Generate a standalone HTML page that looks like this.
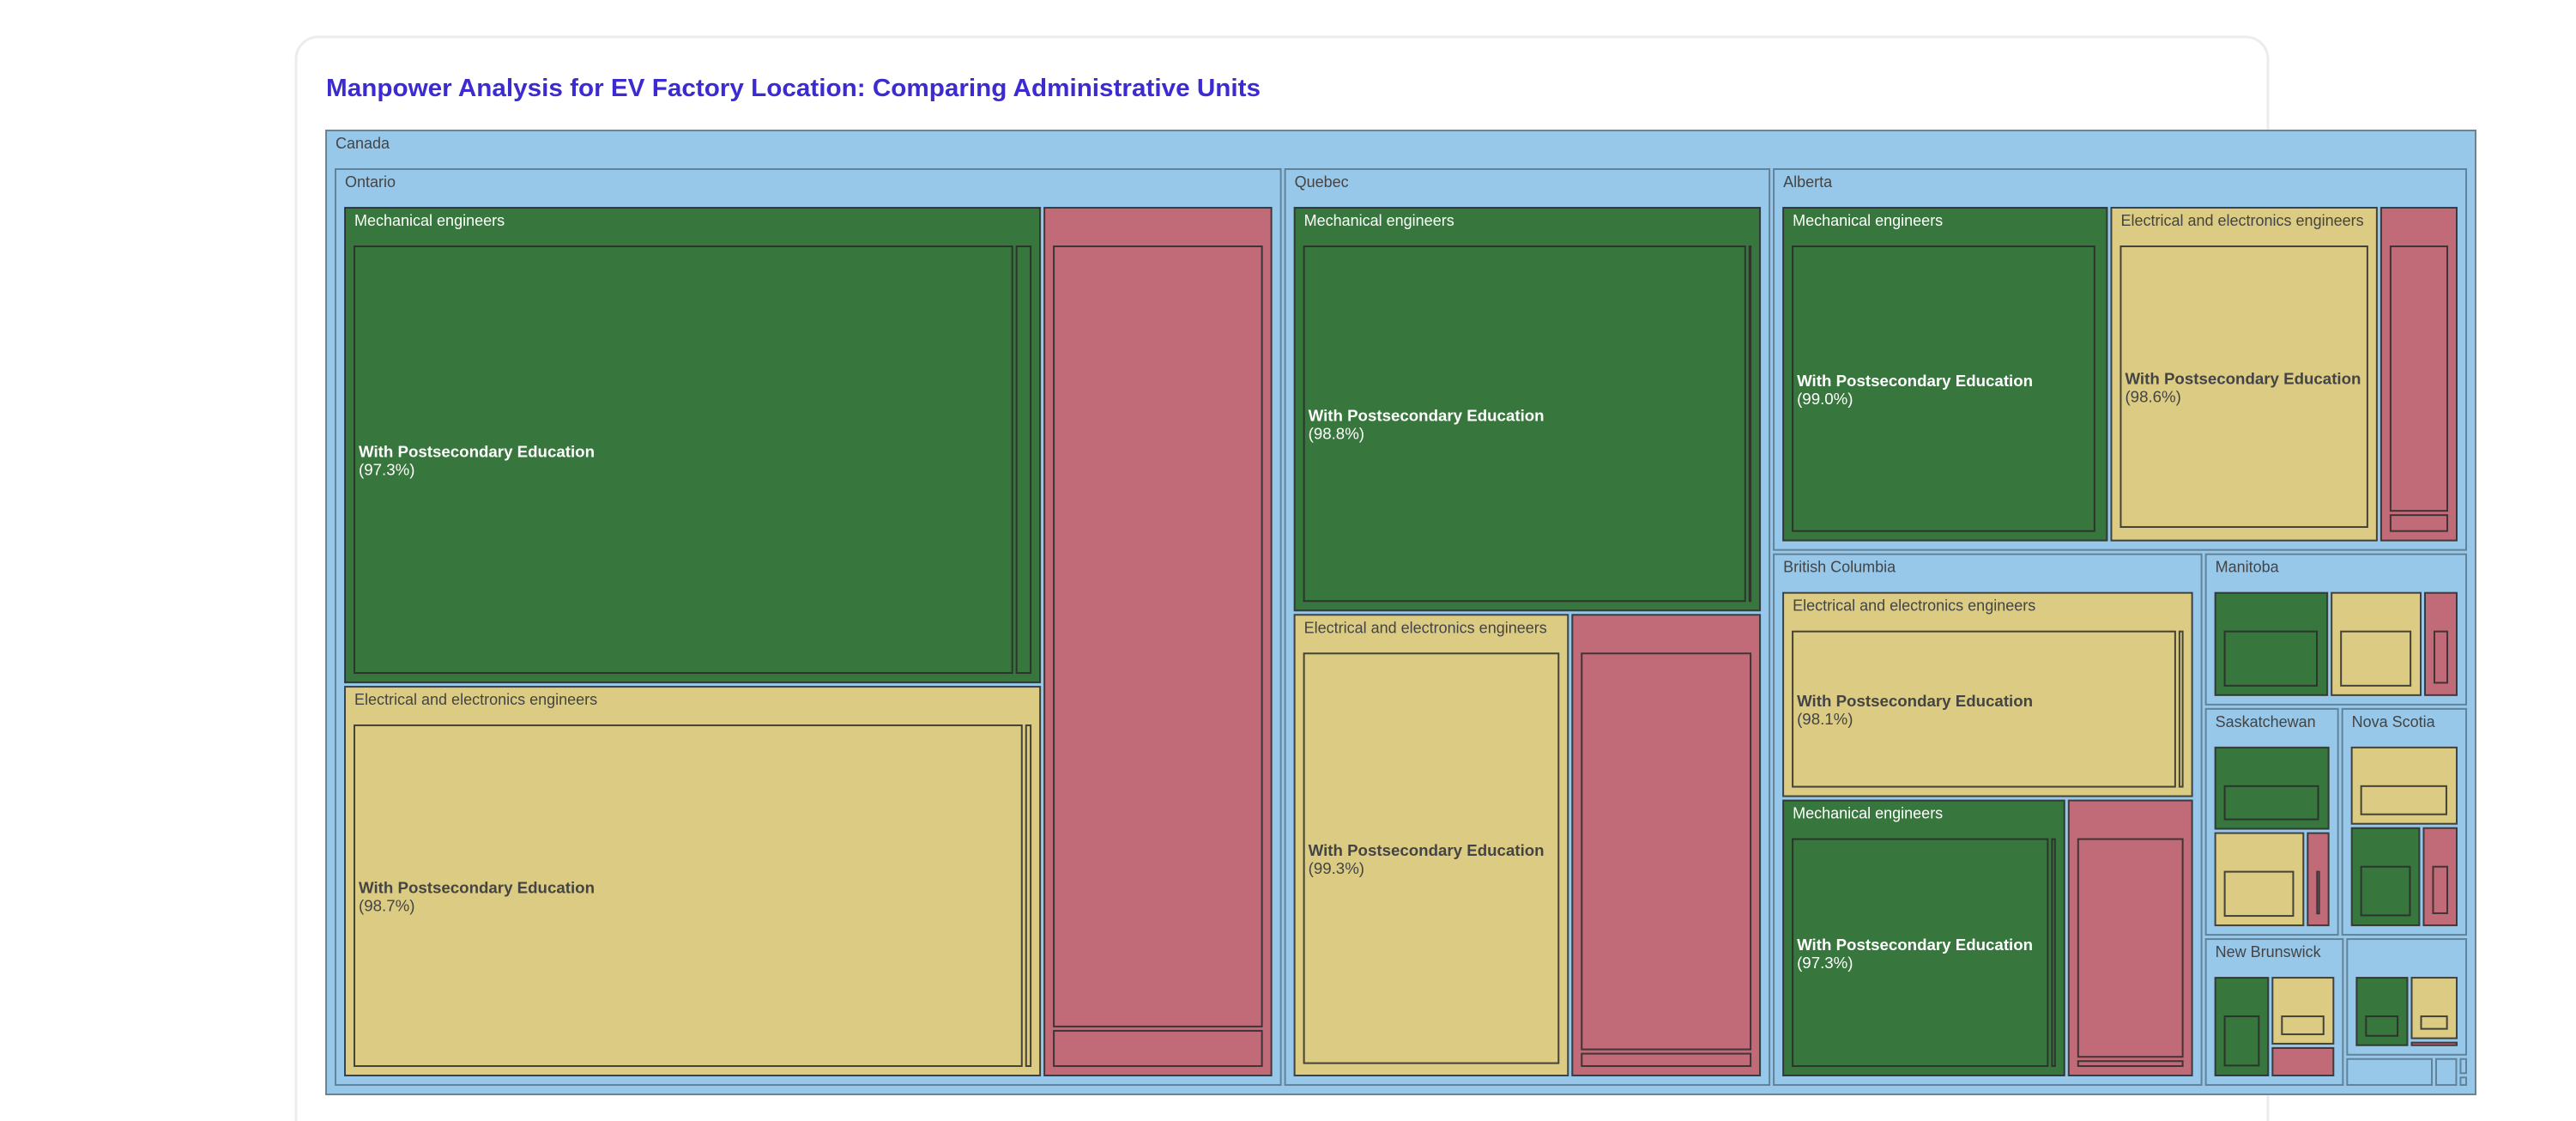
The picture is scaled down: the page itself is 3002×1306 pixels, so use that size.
<!DOCTYPE html>
<html><head><meta charset="utf-8"><style>
html,body{margin:0;padding:0;background:#fff;width:3002px;height:1306px;overflow:hidden}
svg{display:block}
</style></head><body>
<svg id="chart" width="3002" height="1306" xmlns="http://www.w3.org/2000/svg">
<rect x="345" y="43" width="2298" height="1300" rx="26" fill="#fff" stroke="#ececf0" stroke-width="3"/>
<text x="380" y="112" font-family="Liberation Sans, sans-serif" font-weight="bold" font-size="29" fill="#3b2bd0" textLength="1089" lengthAdjust="spacingAndGlyphs">Manpower Analysis for EV Factory Location: Comparing Administrative Units</text>
<g id="tm"></g>
</svg>
<script>
const provinces = ['Ontario','Quebec','Alberta','British Columbia','Manitoba','Saskatchewan','Nova Scotia','New Brunswick','Newfoundland and Labrador','Prince Edward Island','Northwest Territories','Yukon','Nunavut'];
const occupations = ['Mechanical engineers','Electrical and electronics engineers','Industrial and manufacturing engineers'];
const mechValues = [129900,75600,46780,33000,6977,5318,3900,3573,2809,400,120,30,42];
const elecValues = [106600,51050,38470,35500,5601,4713,4700,2803,2271,400,100,26,0];
const indValues  = [78200,35300,11390,14760,2162,1285,2026,1268,245,169,46,10,0];
const mechPct = [97.3,98.8,99.0,97.3,99,99,99,99,99,99,99,99,99];
const elecPct = [98.7,99.3,98.6,98.1,99,99,99,99,99,99,99,99,99];
const indPct  = [95.2,96.0,93.0,96.0,95,95,95,95,95,95,95,95,95];

const COLORS = ['#37763c','#dbcb83','#c06b77'];
const BLUE = '#97c8e9';
const PAD_T = 45, PAD_S = 11, PAD_IN = 5, RATIO = 1;
const FONT = '"Liberation Sans", sans-serif';

const root = {name:'Canada', color:BLUE, children:[]};
provinces.forEach((p,i)=>{
  const vals=[mechValues[i],elecValues[i],indValues[i]];
  const pcts=[mechPct[i],elecPct[i],indPct[i]];
  const prov={name:p,color:BLUE,children:[]};
  vals.forEach((v,j)=>{
    if(v<=0) return;
    const pc=pcts[j]/100;
    prov.children.push({name:occupations[j],color:COLORS[j],children:[
      {name:'With Postsecondary Education',pct:pcts[j],leaf:true,color:COLORS[j],value:v*pc},
      {name:'Without Postsecondary Education',pct:100-pcts[j],leaf:true,color:COLORS[j],value:v*(1-pc)}
    ]});
  });
  root.children.push(prov);
});
function sum(n){ if(n.children){ n.value=n.children.reduce((a,c)=>a+sum(c),0); n.children.sort((a,b)=>b.value-a.value);} return n.value; }
sum(root);

function dice(nodes,value,x0,y0,x1,y1){ let k=value?(x1-x0)/value:0; nodes.forEach(n=>{n.y0=y0;n.y1=y1;n.x0=x0;n.x1=x0+=n.value*k;}); }
function slice(nodes,value,x0,y0,x1,y1){ let k=value?(y1-y0)/value:0; nodes.forEach(n=>{n.x0=x0;n.x1=x1;n.y0=y0;n.y1=y0+=n.value*k;}); }
function squarify(parent,x0,y0,x1,y1){
  const nodes=parent.children; let i0=0,i1=0,n=nodes.length,value=parent.value;
  while(i0<n){
    let dx=x1-x0,dy=y1-y0,sumV;
    do sumV=nodes[i1++].value; while(!sumV&&i1<n);
    let minV=sumV,maxV=sumV;
    const alpha=Math.max(dy/dx,dx/dy)/(value*RATIO);
    let beta=sumV*sumV*alpha, minRatio=Math.max(maxV/beta,beta/minV);
    for(;i1<n;++i1){
      const nv=nodes[i1].value; sumV+=nv;
      if(nv<minV)minV=nv; if(nv>maxV)maxV=nv;
      beta=sumV*sumV*alpha;
      const nr=Math.max(maxV/beta,beta/minV);
      if(nr>minRatio){sumV-=nv;break;}
      minRatio=nr;
    }
    const row=nodes.slice(i0,i1);
    if(dx<dy){ const ny=dy?y0+dy*sumV/value:y1; dice(row,sumV,x0,y0,x1,ny); y0=ny; }
    else { const nx=dx?x0+dx*sumV/value:x1; slice(row,sumV,x0,y0,nx,y1); x0=nx; }
    value-=sumV; i0=i1;
  }
}
function position(node,p){
  let x0=node.x0+p,y0=node.y0+p,x1=node.x1-p,y1=node.y1-p;
  if(x1<x0)x0=x1=(x0+x1)/2; if(y1<y0)y0=y1=(y0+y1)/2;
  node.x0=x0;node.y0=y0;node.x1=x1;node.y1=y1;
  if(node.children){
    const q=PAD_IN/2;
    let a=x0+PAD_S-q,b=y0+PAD_T-q,c=x1-PAD_S+q,d=y1-PAD_S+q;
    if(c<a)a=c=(a+c)/2; if(d<b)b=d=(b+d)/2;
    squarify(node,a,b,c,d);
    node.children.forEach(ch=>position(ch,q));
  }
}
root.x0=380;root.y0=152;root.x1=2885;root.y1=1275;
position(root,0);

const ctx=document.createElement('canvas').getContext('2d');
function tw(t,w,s){ctx.font=w+' '+s+'px "Liberation Sans"';return ctx.measureText(t).width;}
const NS='http://www.w3.org/2000/svg';
const g=document.getElementById('tm');
function slug(s){return s.toLowerCase().replace(/[^a-z0-9]+/g,'-').replace(/-$/,'');}
function draw(node,path){
  const w=node.x1-node.x0,h=node.y1-node.y0;
  if(w<1||h<1) return;
  const r=document.createElementNS(NS,'rect');
  r.setAttribute('x',node.x0);r.setAttribute('y',node.y0);r.setAttribute('width',w);r.setAttribute('height',h);
  r.setAttribute('fill',node.color);
  r.setAttribute('stroke',node.color===BLUE?'#5b7b90':'#2a2a2a');
  r.setAttribute('stroke-width','2');
  r.setAttribute('stroke-opacity',node.color===BLUE?'0.9':'0.85');
  
  
  g.appendChild(r);
  const fill=node.color===COLORS[0]?'#fff':'#444';
  if(node.leaf){
    const l1=node.name, l2='('+node.pct.toFixed(1)+'%)';
    if(tw(l1,'bold',18.7)+6<w && h>60){
      const cy=(node.y0+node.y1)/2;
      const t=document.createElementNS(NS,'text');
      t.setAttribute('x',node.x0+5);t.setAttribute('y',cy-3);
      t.setAttribute('font-family',FONT);t.setAttribute('font-size','18.7');t.setAttribute('font-weight','bold');t.setAttribute('fill',fill);
      t.textContent=l1;
      
      
      g.appendChild(t);
      const t2=document.createElementNS(NS,'text');
      t2.setAttribute('x',node.x0+5);t2.setAttribute('y',cy+18);
      t2.setAttribute('font-family',FONT);t2.setAttribute('font-size','18.7');t2.setAttribute('fill',fill);
      t2.textContent=l2;
      
      
      g.appendChild(t2);
    }
  } else {
    if(tw(node.name,'normal',18)+22<w && h>30){
      const t=document.createElementNS(NS,'text');
      t.setAttribute('x',node.x0+11);t.setAttribute('y',node.y0+21);
      t.setAttribute('font-family',FONT);t.setAttribute('font-size','18');t.setAttribute('fill',fill);
      t.textContent=node.name;
      
      
      g.appendChild(t);
    }
  }
  if(node.children) node.children.forEach(c=>draw(c,path+' '+c.name));
}
draw(root,'canada');
</script>
</body></html>
